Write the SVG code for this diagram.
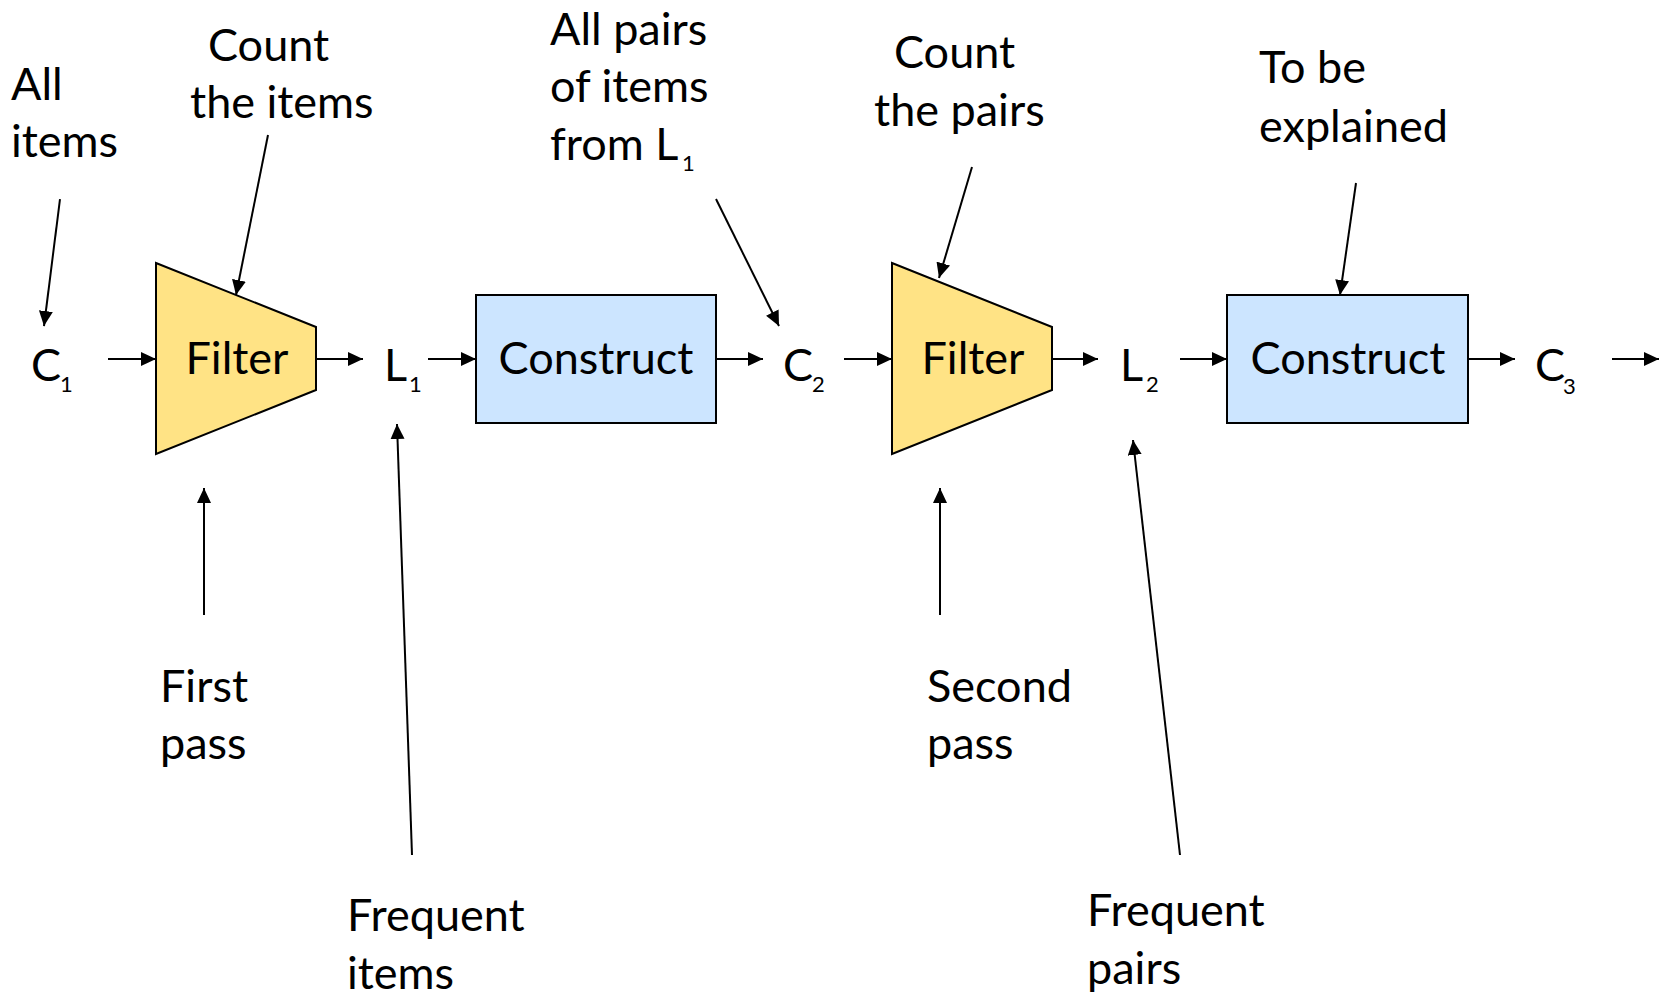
<svg xmlns="http://www.w3.org/2000/svg" width="1669" height="997" viewBox="0 0 1669 997">
  <defs>
    <marker id="arrow" markerUnits="userSpaceOnUse" markerWidth="16" markerHeight="15" refX="15" refY="7" orient="auto">
      <path d="M0,0 L15,7 L0,14 z" fill="#000"/>
    </marker>
    <style>
      text { font-family: Lato, "Open Sans", sans-serif; font-size: 45px; fill: #000; }
      .sub { font-size: 22px; }
      .mid { text-anchor: middle; }
      .filter { fill: #FFE385; stroke: #000; stroke-width: 2; }
      .construct { fill: #CCE5FF; stroke: #000; stroke-width: 2; }
      .conn line { stroke: #000; stroke-width: 2; marker-end: url(#arrow); }
    </style>
  </defs>
  <rect width="1669" height="997" fill="#fff"/>

  <!-- pipeline sets -->
  <g id="c1"><text x="31" y="381">C<tspan class="sub" x="60" y="392">1</tspan></text></g>
  <g id="l1"><text x="384" y="381">L<tspan class="sub" x="409" y="392">1</tspan></text></g>
  <g id="c2"><text x="783" y="381">C<tspan class="sub" x="812" y="392">2</tspan></text></g>
  <g id="l2"><text x="1120" y="381">L<tspan class="sub" x="1146" y="392">2</tspan></text></g>
  <g id="c3"><text x="1535" y="381">C<tspan class="sub" x="1563" y="394">3</tspan></text></g>

  <!-- processing blocks -->
  <g id="filter1">
    <polygon class="filter" points="156,263 316,327 316,390 156,454"/>
    <text class="mid" x="237" y="374">Filter</text>
  </g>
  <g id="construct1">
    <rect class="construct" x="476" y="295" width="240" height="128"/>
    <text class="mid" x="596" y="374">Construct</text>
  </g>
  <g id="filter2">
    <polygon class="filter" points="892,263 1052,327 1052,390 892,454"/>
    <text class="mid" x="973" y="374">Filter</text>
  </g>
  <g id="construct2">
    <rect class="construct" x="1227" y="295" width="241" height="128"/>
    <text class="mid" x="1348" y="374">Construct</text>
  </g>

  <!-- annotations -->
  <g id="note-all-items"><text x="11" y="100">All</text><text x="11" y="157">items</text></g>
  <g id="note-count-items"><text x="208" y="61">Count</text><text x="190" y="118">the items</text></g>
  <g id="note-all-pairs">
    <text x="550" y="45">All pairs</text>
    <text x="550" y="102">of items</text>
    <text x="550" y="160">from L<tspan class="sub" x="682" y="171">1</tspan></text>
  </g>
  <g id="note-count-pairs"><text x="894" y="68">Count</text><text x="874" y="126">the pairs</text></g>
  <g id="note-explained"><text x="1259" y="83">To be</text><text x="1259" y="142">explained</text></g>
  <g id="note-first-pass"><text x="160" y="702">First</text><text x="160" y="759">pass</text></g>
  <g id="note-frequent-items"><text x="347" y="931">Frequent</text><text x="347" y="989">items</text></g>
  <g id="note-second-pass"><text x="927" y="702">Second</text><text x="927" y="759">pass</text></g>
  <g id="note-frequent-pairs"><text x="1087" y="926">Frequent</text><text x="1087" y="984">pairs</text></g>

  <!-- connectors -->
  <g id="connectors" class="conn">
    <line x1="108" y1="359" x2="156" y2="359"/>
    <line x1="316" y1="359" x2="363" y2="359"/>
    <line x1="428" y1="359" x2="476" y2="359"/>
    <line x1="716" y1="359" x2="763" y2="359"/>
    <line x1="844" y1="359" x2="892" y2="359"/>
    <line x1="1052" y1="359" x2="1098" y2="359"/>
    <line x1="1180" y1="359" x2="1227" y2="359"/>
    <line x1="1468" y1="359" x2="1515" y2="359"/>
    <line x1="1612" y1="359" x2="1659" y2="359"/>
    <line x1="60" y1="199" x2="44" y2="326"/>
    <line x1="268" y1="135" x2="236" y2="295"/>
    <line x1="716" y1="199" x2="779" y2="326"/>
    <line x1="972" y1="167" x2="939" y2="278"/>
    <line x1="1356" y1="183" x2="1340" y2="295"/>
    <line x1="204" y1="615" x2="204" y2="488"/>
    <line x1="412" y1="855" x2="397" y2="424"/>
    <line x1="940" y1="615" x2="940" y2="488"/>
    <line x1="1180" y1="855" x2="1133" y2="440"/>
  </g>
</svg>
